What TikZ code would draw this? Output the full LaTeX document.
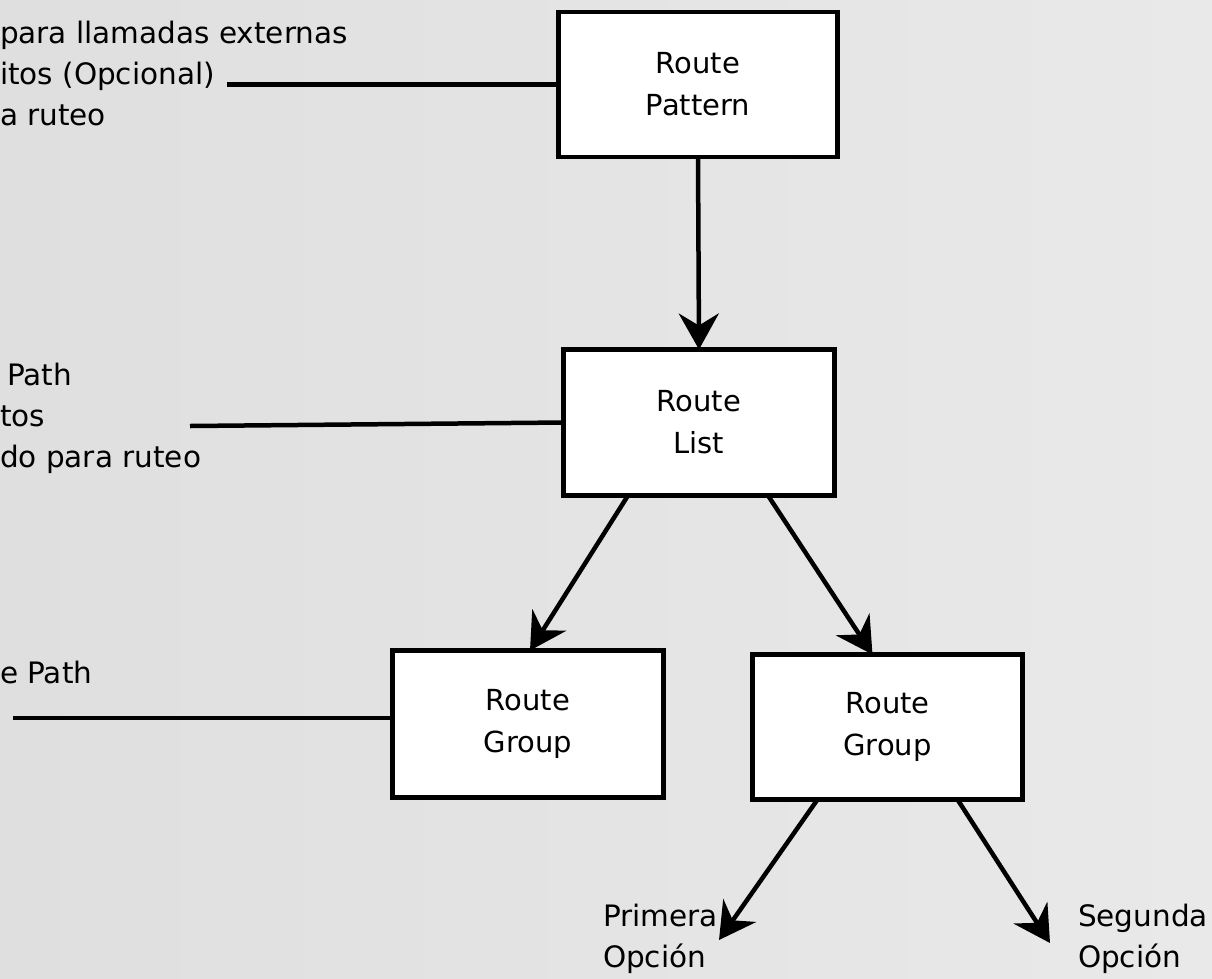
\documentclass[tikz,border=0pt]{standalone}
\usepackage{fontspec}
\setmainfont{DejaVu Sans}
\usetikzlibrary{arrows.meta}
\definecolor{bgA}{HTML}{DFDFDF}
\definecolor{bgB}{HTML}{E9E9E9}
\begin{document}
\begin{tikzpicture}[x=1pt,y=-1pt,
  box/.style={draw=black, fill=white, line width=4.5pt, inner sep=0pt, outer sep=0pt,
    align=center, font=\fontsize{29}{42}\selectfont},
  side/.style={inner sep=0pt, outer sep=0pt, align=left, anchor=west,
    font=\fontsize{29.5}{41}\selectfont},
  conn/.style={line width=4.5pt, -{Stealth[length=36pt,width=40pt,inset=12pt]}},
  plain/.style={line width=4.5pt}]
\useasboundingbox (0,0) rectangle (1212,978);
\fill[left color=bgA, right color=bgB] (0,0) rectangle (1212,978);

% boxes
\node[box, minimum width=279pt, minimum height=145pt] (rp) at (698,84.5) {Route\\Pattern};
\node[box, minimum width=271pt, minimum height=146pt] (rl) at (699,422.5) {Route\\List};
\node[box, minimum width=271pt, minimum height=147pt] (rg1) at (528,724) {Route\\Group};
\node[box, minimum width=270pt, minimum height=145pt] (rg2) at (887.5,727) {Route\\Group};

% side texts
\node[side] (t1) at (0,73) {para llamadas externas\\itos (Opcional)\\a ruteo};
\node[side] (t2) at (0,418) {\hspace*{7pt}Path\\tos\\do para ruteo};
\node[side] (t3) at (0,672) {e Path};
\node[side] (o1) at (603,939) {Primera\\Opción};
\node[side] (o2) at (1078,939) {Segunda\\Opción};

% free ends
\coordinate (c1) at (227,84.5);
\coordinate (c2) at (190,426);
\coordinate (c3) at (13,718);
\coordinate (e1) at (719,940);
\coordinate (e2) at (1050,943);

% side connectors
\draw[plain] (c1) -- (rp.west);
\draw[plain] (c2) -- (rl.west);
\draw[plain] (c3) -- (c3 -| rg1.west);

% arrows
\draw[conn] (rp.south) -- (rl.north);
\draw[conn] ([xshift=-71pt]rl.south) -- ([xshift=2pt]rg1.north);
\draw[conn] ([xshift=69pt]rl.south) -- ([xshift=-15pt]rg2.north);
\draw[conn] ([xshift=-70pt]rg2.south) -- (e1);
\draw[conn] ([xshift=70pt]rg2.south) -- (e2);
\end{tikzpicture}
\end{document}
